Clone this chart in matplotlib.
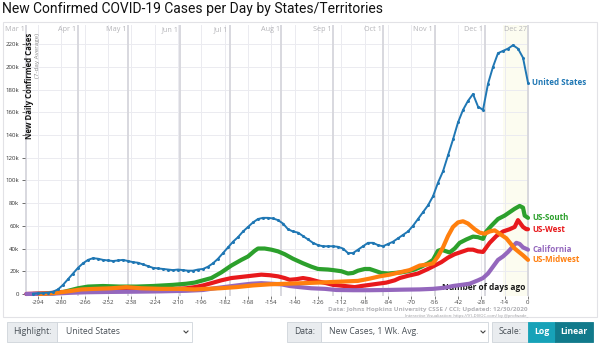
import matplotlib
matplotlib.use("Agg")
import matplotlib.pyplot as plt
from matplotlib.patches import Rectangle
import numpy as np

plt.rcParams['font.family'] = ['Open Sans', 'DejaVu Sans']

# ---- data (days ago, thousands of new cases per day, 7-day average) ----
us_days = list(range(-297, 1, 3))
us_vals = [0.2, 0.5, 0.8, 1.2, 2, 4, 8, 13, 18, 23, 27, 30, 31.5, 31, 30, 29.5, 29, 29.5,
           30, 29, 28, 27.5, 26, 24.5, 23, 22.5, 22, 21.5, 21, 21.5, 21, 20.5, 20.5, 21.5,
           22, 24, 27, 31, 36, 41, 46, 50, 55, 59, 63, 66, 67, 67, 66.5, 65, 62, 57, 55, 54,
           51, 48, 45, 43, 42, 42, 42, 41.5, 40, 36, 36, 39, 42, 45, 45, 43, 42, 44, 46, 49,
           52, 55, 60, 66, 72, 78, 86, 98, 108, 122, 136, 151, 162, 170, 176, 165, 162, 185,
           200, 212, 214, 216, 219, 216, 208, 186]

south_days = [-297, -285, -278, -270, -264, -255, -245, -235, -225, -213, -205, -200, -195,
              -190, -184, -178, -172, -168, -164, -162, -158, -154, -150, -146, -141, -135,
              -130, -126, -120, -117, -112, -108, -105, -102, -98, -95, -91, -88, -84, -80,
              -76, -72, -68, -64, -60, -57, -54, -52, -50, -47, -44, -41, -37, -33, -30, -27,
              -25, -22, -18, -14, -11, -8, -5, -3, -2, 0]
south_vals = [0, 0.5, 2, 5, 6.5, 7, 6.5, 6.5, 7, 8, 9, 10, 12, 14, 19, 25, 30, 33, 38, 40,
              40, 39, 37.5, 35, 31, 27, 24, 22, 21.5, 21, 20, 18, 18.5, 20.5, 22, 22, 20,
              18.5, 18, 18.5, 19, 20, 21.5, 24, 27, 30, 38, 39, 38, 36.5, 40, 45, 48, 50.5,
              50, 48.5, 55, 60, 66, 69, 72, 75, 77.5, 76, 69, 67]

west_days = [-301, -290, -280, -270, -260, -245, -230, -215, -205, -200, -195, -190, -184,
             -178, -172, -166, -160, -155, -150, -146, -143, -139, -135, -131, -126, -121,
             -117, -110, -104, -100, -95, -90, -85, -80, -77, -72, -66, -60, -56, -52, -48,
             -44, -40, -36, -33, -30, -27, -23, -19, -15, -11, -8, -6, -5, -3, -1, 0]
west_vals = [0, 0.5, 1.5, 2.5, 3, 3.5, 3.5, 4, 5, 6, 7.5, 9.5, 12, 14, 15, 16, 17, 16.5,
             15.5, 14, 12.5, 13, 14, 13, 11, 9.5, 8, 7, 6, 7, 8, 9, 10, 12, 14, 16, 18, 22,
             25, 28, 32, 35, 37, 39, 39, 37.5, 37, 45, 51, 55, 57, 59, 65, 63, 59, 57, 57]

midwest_days = [-293, -290, -283, -275, -268, -260, -250, -241, -232, -220, -210, -200,
                -193, -185, -175, -165, -155, -145, -135, -126, -118, -110, -102, -95, -89,
                -83, -77, -71, -65, -60, -57, -54, -51, -48, -45, -42, -39, -36, -32, -29,
                -26, -23, -20, -17, -13, -8, -3, 0]
midwest_vals = [0, 0.3, 1, 2.5, 4, 4.5, 5, 6, 5, 4.5, 4.5, 4, 4.5, 5, 6, 7.5, 8.5, 9, 9.5,
                10, 10.5, 11, 11.5, 13.5, 15.5, 17, 19, 21, 25, 26, 27, 33, 41, 51, 59, 63,
                64, 62, 57, 54, 53, 55, 56, 53, 49, 40, 34, 30]

calif_days = [-301, -285, -275, -265, -250, -235, -220, -205, -195, -188, -180, -172, -166,
              -160, -154, -148, -143, -137, -130, -122, -115, -105, -95, -85, -75, -65, -57,
              -50, -45, -40, -35, -30, -27, -24, -21, -18, -15, -12, -9, -7, -5, -3, 0]
calif_vals = [0, 0.3, 1, 1.5, 1.8, 2, 2.3, 2.8, 3.5, 5, 6.5, 8, 9, 9.5, 9, 8.5, 7, 6, 5,
              4.5, 3.5, 3.3, 3.3, 3.5, 3.8, 4, 4.5, 5.5, 7, 8, 9, 12, 14, 18, 24, 30, 33,
              37, 42, 45, 44, 41, 39]

series_names = ["US-South", "US-West", "California", "US-Midwest"]
series_colors = ["#2ca02c", "#e8191c", "#9467bd", "#ff7f0e"]

month_names = ["Mar 1", "Apr 1", "May 1", "Jun 1", "Jul 1", "Aug 1", "Sep 1", "Oct 1",
               "Nov 1", "Dec 1", "Dec 27"]
month_days = [-301, -270, -240, -209, -179, -148, -117, -87, -56, -26, 0]

x_ticks = list(range(-294, 1, 14))
y_ticks = list(range(0, 221, 20))
y_tick_labels = ["0"] + [f"{v}k" for v in y_ticks[1:]]

# ---- figure ----
W, H = 600, 344
fig = plt.figure(figsize=(W / 100, H / 100), dpi=100)
fig.patch.set_facecolor("white")


def fx(px):
    return px / W


def fy(py):
    return 1 - py / H


# outer panel border
fig.patches.append(Rectangle((fx(3), fy(317)), fx(597) - fx(3), fy(22) - fy(317),
                             transform=fig.transFigure, fill=False,
                             edgecolor="#e2e2e6", lw=0.8))

fig.text(fx(2), fy(9), "New Confirmed COVID-19 Cases per Day by States/Territories",
         fontsize=10.0, family=["Roboto", "DejaVu Sans"], color="#111111",
         ha="left", va="center")

ax = fig.add_axes([fx(25), fy(296), fx(529) - fx(25), fy(25) - fy(296)])
ax.set_xlim(-301.8, 0.6)
ax.set_ylim(-1.8, 236.8)
for s in ax.spines.values():
    s.set_visible(False)

# recent-days shading
ax.axvspan(-15, 0, color="#fcfcf0", zorder=0, lw=0)

# grid
for y in y_ticks[1:]:
    ax.axhline(y, color="#ebebf0", lw=0.7, zorder=1)
for x in x_ticks:
    ax.axvline(x, color="#ebebf0", lw=0.7, zorder=1)
for d, name in zip(month_days, month_names):
    ax.axvline(d, color="#d6d6dc", lw=1.3, zorder=1.2)
    ax.text(d - 0.9, 235.5, name, fontsize=5.2, color="#b4b4b8", ha="right", va="top",
            zorder=1.3)

ax.set_xticks(x_ticks)
ax.set_xticklabels([str(t) for t in x_ticks])
ax.set_yticks(y_ticks)
ax.set_yticklabels(y_tick_labels)
ax.tick_params(axis="both", labelsize=4.4, colors="#333333", length=2.5, width=0.5,
               pad=1.5)
ax.tick_params(axis="x", colors="#444444", length=2, pad=1.2)

# axis captions inside the plot
fig.text(fx(30), fy(33), "New Daily Confirmed Cases", rotation=90, fontsize=5.6,
         fontweight="bold", color="#111111", ha="center", va="top")
fig.text(fx(38), fy(33), "(7-day Average)", rotation=90, fontsize=4.5,
         color="#8a8a8a", ha="center", va="top")
ax.text(-1.5, 5.5, "Number of days ago", fontsize=6.0, fontweight="bold",
        color="#1a1a1a", ha="right", va="center", zorder=2)

# background series
series_days = [south_days, west_days, calif_days, midwest_days]
series_vals = [south_vals, west_vals, calif_vals, midwest_vals]
for days, vals, col, name in zip(series_days, series_vals, series_colors, series_names):
    ax.plot(days, vals, color=col, lw=3.0, solid_capstyle="round",
            solid_joinstyle="round", zorder=3, clip_on=False)
    ax.annotate(name, (days[-1], vals[-1]), xytext=(3, 0), textcoords="offset points",
                fontsize=5.8, fontweight="bold", color=col, va="center", ha="left",
                annotation_clip=False)

# highlighted series
ax.plot(us_days, us_vals, color="#1f77b4", lw=1.4, marker="o", ms=2.2, mew=0,
        zorder=5, clip_on=False)
ax.annotate("United States", (us_days[-1], us_vals[-1]), xytext=(3, 0),
            textcoords="offset points", fontsize=5.8, fontweight="bold",
            color="#1f77b4", va="center", ha="left", annotation_clip=False)

# source notes
fig.text(fx(528), fy(309.5), "Data: Johns Hopkins University CSSE / CCI; Updated: 12/30/2020",
         fontsize=4.6, fontweight="bold", color="#b2b2b6", ha="right", va="center")
fig.text(fx(528), fy(315.5), "Interactive Visualization: https://91-DIVOC.com/ by @profwade_",
         fontsize=3.0, color="#9a9a9e", ha="right", va="center")


# ---- control bar ----
def box(x0, x1, y0, y1, face, edge="#ced4da"):
    fig.patches.append(Rectangle((fx(x0), fy(y1)), fx(x1) - fx(x0), fy(y0) - fy(y1),
                                 transform=fig.transFigure, facecolor=face,
                                 edgecolor=edge, lw=0.6))


def chevron(xc, yc):
    fig.lines.append(plt.Line2D([fx(xc - 2), fx(xc), fx(xc + 2)],
                                [fy(yc - 1), fy(yc + 1), fy(yc - 1)],
                                transform=fig.transFigure, color="#444444", lw=0.8))


ctl_font = dict(fontsize=6.2, color="#495057", va="center")
ytop, ybot = 322, 342
ymid = (ytop + ybot) / 2

box(7, 57, ytop, ybot, "#e9ecef")
box(57, 192, ytop, ybot, "white")
fig.text(fx(13), fy(ymid), "Highlight:", ha="left", **ctl_font)
fig.text(fx(66), fy(ymid), "United States", ha="left", **ctl_font)
chevron(186, ymid)

box(287, 321, ytop, ybot, "#e9ecef")
box(321, 488, ytop, ybot, "white")
fig.text(fx(294), fy(ymid), "Data:", ha="left", **ctl_font)
fig.text(fx(329), fy(ymid), "New Cases, 1 Wk. Avg.", ha="left", **ctl_font)
chevron(483, ymid)

box(492, 528, ytop, ybot, "#e9ecef")
fig.text(fx(499), fy(ymid), "Scale:", ha="left", **ctl_font)
box(528, 555, ytop, ybot, "#17a2b8", edge="#17a2b8")
box(555, 593, ytop, ybot, "#117a8b", edge="#117a8b")
fig.text(fx(541.5), fy(ymid), "Log", ha="center", fontsize=6.2, fontweight="bold",
         color="white", va="center")
fig.text(fx(574), fy(ymid), "Linear", ha="center", fontsize=6.2, fontweight="bold",
         color="white", va="center")

fig.savefig("out.png", dpi=100, facecolor="white")
